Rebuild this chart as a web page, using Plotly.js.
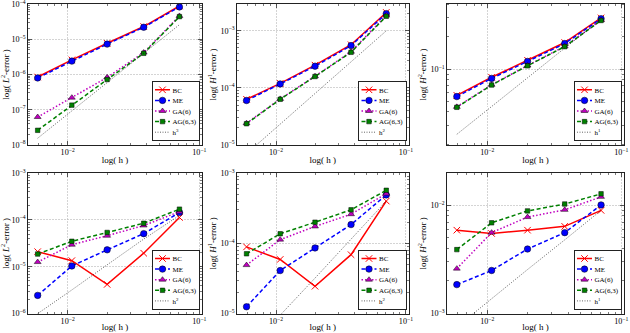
<!DOCTYPE html>
<html>
<head>
<meta charset="utf-8">
<script src="https://cdn.plot.ly/plotly-3.0.1.min.js"></script>
<style>
  html, body { margin: 0; padding: 0; overflow: hidden; background: #fff; }
  #fig { width: 1260px; height: 666px; transform: scale(0.5); transform-origin: 0 0; }
</style>
</head>
<body>
<div id="fig"></div>
<script>
// mesh sizes
var h = [0.00592, 0.01076, 0.01995, 0.0378, 0.0706];

// top row: smooth case
var bc1 = [8.5e-7, 2.6e-6, 7.7e-6, 2.3e-5, 8.8e-5];
var me1 = [8.0e-7, 2.4e-6, 7.3e-6, 2.2e-5, 8.3e-5];
var ga1 = [6.2e-8, 2.2e-7, 8.3e-7, 4.2e-6, 4.6e-5];
var ag1 = [2.6e-8, 1.35e-7, 7.2e-7, 4.0e-6, 4.4e-5];
var ref1 = [1.55e-8, 9.3e-8, 5.9e-7, 4.0e-6, 2.6e-5];

var bc2 = [6.3e-5, 1.2e-4, 2.5e-4, 5.7e-4, 2.1e-3];
var me2 = [6.0e-5, 1.17e-4, 2.4e-4, 5.5e-4, 2.0e-3];
var ga2 = [2.4e-5, 6.4e-5, 1.6e-4, 4.3e-4, 1.85e-3];
var ag2 = [2.35e-5, 6.3e-5, 1.58e-4, 4.2e-4, 1.8e-3];
var ref2 = [7.0e-6, 2.3e-5, 8.0e-5, 2.86e-4, 1.0e-3];

var bc3 = [0.057, 0.084, 0.121, 0.177, 0.30];
var me3 = [0.0555, 0.082, 0.118, 0.173, 0.295];
var ga3 = [0.0445, 0.0715, 0.108, 0.163, 0.286];
var ag3 = [0.0441, 0.0711, 0.1074, 0.162, 0.284];
var ref3 = [0.0247, 0.045, 0.083, 0.157, 0.29];

// bottom row
var bc4 = [2.1e-5, 1.35e-5, 4.2e-6, 1.95e-5, 1.13e-4];
var me4 = [2.45e-6, 1.04e-5, 2.3e-5, 5.1e-5, 1.44e-4];
var ga4 = [1.26e-5, 2.96e-5, 4.6e-5, 7.6e-5, 1.5e-4];
var ag4 = [1.87e-5, 3.5e-5, 5.4e-5, 8.5e-5, 1.7e-4];
var ref4 = [1.0e-6, 3.2e-6, 1.1e-5, 3.9e-5, 1.25e-4];

var bc5 = [8.9e-5, 5.9e-5, 2.45e-5, 6.9e-5, 4.0e-4];
var me5 = [1.25e-5, 4.1e-5, 8.6e-5, 1.85e-4, 4.9e-4];
var ga5 = [4.9e-5, 1.13e-4, 1.74e-4, 2.6e-4, 5.1e-4];
var ag5 = [7.1e-5, 1.37e-4, 2.0e-4, 3.0e-4, 5.7e-4];
var ref5 = [2.7e-6, 9.5e-6, 3.2e-5, 1.14e-4, 4.0e-4];

var bc6 = [5.9e-3, 5.5e-3, 5.9e-3, 6.4e-3, 9.0e-3];
var me6 = [1.85e-3, 2.5e-3, 3.95e-3, 5.6e-3, 1.01e-2];
var ga6 = [2.6e-3, 5.6e-3, 7.8e-3, 9.1e-3, 1.2e-2];
var ag6 = [3.9e-3, 6.9e-3, 8.9e-3, 1.03e-2, 1.28e-2];
var ref6 = [7.5e-4, 1.37e-3, 2.55e-3, 4.8e-3, 9.0e-3];

var names = ['BC', 'ME', 'GA(6)', 'AG(6,3)'];
var refNames = ['h<sup>3</sup>', 'h<sup>2</sup>', 'h<sup>1</sup>', 'h<sup>2</sup>', 'h<sup>2</sup>', 'h<sup>1</sup>'];
var yTitles = ['log( <i>L</i><sup>2</sup>-error )', 'log( <i>H</i><sup>1</sup>-error )', 'log( <i>H</i><sup>2</sup>-error )',
               'log( <i>L</i><sup>2</sup>-error )', 'log( <i>H</i><sup>1</sup>-error )', 'log( <i>H</i><sup>2</sup>-error )'];

var panels = [
  [bc1, me1, ga1, ag1, ref1], [bc2, me2, ga2, ag2, ref2], [bc3, me3, ga3, ag3, ref3],
  [bc4, me4, ga4, ag4, ref4], [bc5, me5, ga5, ag5, ref5], [bc6, me6, ga6, ag6, ref6]
];

// everything is drawn at 2x and scaled down by css
var W = 1260, H = 666;
var colPx = [[28, 202], [237, 408.5], [447, 624]];
var rowPx = [[4, 145], [173, 313.7]];
var yRanges = [[-8.002, -3.998], [-5.002, -2.53], [-1.707, -0.393], [-6.002, -2.998], [-5.002, -2.998], [-3.002, -1.70]];
var FONT = 'Liberation Serif, Times New Roman, serif';

var styles = [
  {line: {color: '#ff0000', width: 3}, marker: {symbol: 'x-thin', size: 13, color: '#ff0000', line: {color: '#ff0000', width: 2}}},
  {line: {color: '#0000ff', width: 3, dash: '8px,5px'}, marker: {symbol: 'circle', size: 13, color: '#0000ff', line: {color: '#000', width: 1}}},
  {line: {color: '#bf00bf', width: 3, dash: '3px,4px'}, marker: {symbol: 'triangle-up', size: 12, color: '#bf00bf', line: {color: '#000', width: 1}}},
  {line: {color: '#008000', width: 3, dash: '8px,5px'}, marker: {symbol: 'square', size: 9, color: '#008000', line: {color: '#000', width: 1}}},
  {line: {color: '#111', width: 1.3, dash: '2px,3px'}, marker: {size: 1}}
];

var data = [];
var layout = {
  width: W, height: H,
  margin: {l: 0, r: 0, t: 0, b: 0},
  paper_bgcolor: '#fff', plot_bgcolor: '#fff',
  font: {family: FONT, color: '#000'},
  showlegend: true
};

for (var p = 0; p < 6; p++) {
  var col = p % 3, row = Math.floor(p / 3);
  var n = p + 1;
  var xa = 'x' + (n === 1 ? '' : n), ya = 'y' + (n === 1 ? '' : n);
  var lg = 'legend' + (n === 1 ? '' : n);
  for (var s = 0; s < 5; s++) {
    data.push({
      x: h, y: panels[p][s], xaxis: xa, yaxis: ya, legend: lg,
      name: s < 4 ? names[s] : refNames[p],
      mode: s < 4 ? 'lines+markers' : 'lines',
      line: styles[s].line, marker: styles[s].marker,
      cliponaxis: true
    });
  }
  var dx = [colPx[col][0] / 630, colPx[col][1] / 630];
  var dy = [1 - rowPx[row][1] / 333, 1 - rowPx[row][0] / 333];
  var axCommon = {
    type: 'log', dtick: 1, exponentformat: 'power', showexponent: 'all',
    showline: true, linecolor: '#222', linewidth: 2, mirror: 'ticks',
    ticks: 'inside', ticklen: 8, tickwidth: 1.5, tickcolor: '#222',
    showgrid: true, gridcolor: '#b8b8b8', gridwidth: 1.2, griddash: 'dot',
    minor: {ticks: 'inside', ticklen: 4, tickwidth: 1.2, tickcolor: '#222', showgrid: false},
    tickfont: {family: FONT, size: 13, color: '#000'},
    ticklabeloverflow: 'allow',
    zeroline: false, automargin: false, fixedrange: true
  };
  layout['xaxis' + (n === 1 ? '' : n)] = Object.assign({}, axCommon, {
    domain: dx, anchor: ya, range: [Math.log10(0.005), -0.98],
    title: {text: 'log( h )', font: {family: FONT, size: 18}, standoff: 0}
  });
  layout['yaxis' + (n === 1 ? '' : n)] = Object.assign({}, axCommon, {
    domain: dy, anchor: xa, range: yRanges[p],
    title: {text: yTitles[p], font: {family: FONT, size: 18}, standoff: 4}
  });
  layout[lg] = {
    x: dx[1] - 2 / 630, xanchor: 'right', xref: 'paper',
    y: dy[0] + 4 / 333, yanchor: 'bottom', yref: 'paper',
    bgcolor: '#fff', bordercolor: '#222', borderwidth: 2,
    font: {family: FONT, size: 14, color: '#000'},
    itemwidth: 30, tracegroupgap: 0
  };
}

Plotly.newPlot('fig', data, layout, {displayModeBar: false, staticPlot: true});
</script>
</body>
</html>
